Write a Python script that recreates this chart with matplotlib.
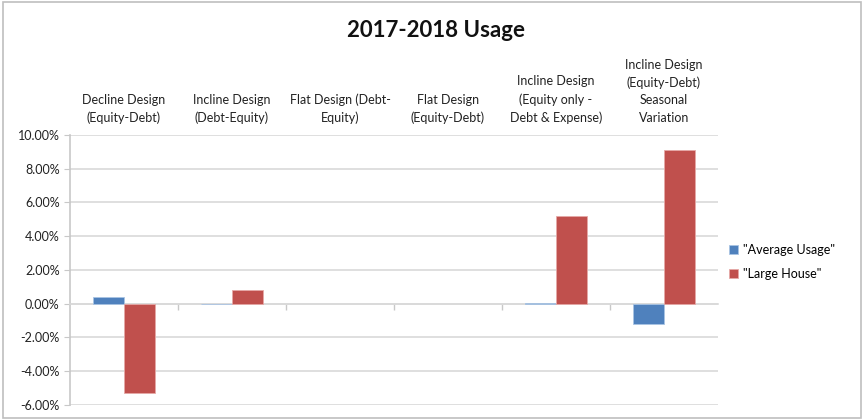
import numpy as np
import matplotlib.pyplot as plt
from matplotlib.ticker import FuncFormatter, FixedLocator
from matplotlib.patches import Rectangle

categories = [
    "Decline Design\n(Equity-Debt)",
    "Incline Design\n(Debt-Equity)",
    "Flat Design (Debt-\nEquity)",
    "Flat Design\n(Equity-Debt)",
    "Incline Design\n(Equity only -\nDebt & Expense)",
    "Incline Design\n(Equity-Debt)\nSeasonal\nVariation",
]
average_usage = [0.0037, -0.0005, 0.0, 0.0, 0.0003, -0.0120]
large_house = [-0.0526, 0.0081, 0.0, 0.0, 0.0521, 0.0907]
series_names = ['"Average Usage"', '"Large House"']

plt.rcParams['font.family'] = ['Lato', 'DejaVu Sans']

fig = plt.figure(figsize=(8.64, 4.2), dpi=100)
ax = fig.add_axes([0.081, 0.0357, 0.75, 0.6435])

x = np.arange(len(categories))
w = 0.287


def edge_widths(vals):
    # no outline on empty bars so nothing shows at zero
    return [0.6 if v != 0 else 0 for v in vals]


ax.bar(x - w / 2, average_usage, w, color="#4f81bd", edgecolor="#a9c4e4",
       linewidth=edge_widths(average_usage), label=series_names[0], zorder=3)
ax.bar(x + w / 2, large_house, w, color="#c0504d", edgecolor="#e6a9a7",
       linewidth=edge_widths(large_house), label=series_names[1], zorder=3)

ax.set_xlim(-0.5, len(categories) - 0.5)
ax.set_ylim(-0.06, 0.10)
ax.set_yticks(np.arange(-0.06, 0.1001, 0.02))
ax.yaxis.set_major_formatter(FuncFormatter(lambda v, p: f"{v * 100:.2f}%"))
ax.grid(axis="y", color="#d9d9d9", linewidth=1.2, zorder=0)

# category labels above the plot, boundary ticks on the zero line
ax.set_xticks(x)
ax.set_xticklabels([])
for xi, name in zip(x, categories):
    ax.text(xi, 1.04, name, transform=ax.get_xaxis_transform(), ha="center", va="bottom",
            fontsize=9, color="#222222", linespacing=1.55)
ax.xaxis.set_minor_locator(FixedLocator(np.arange(0.5, len(categories) - 0.5, 1.0)))
ax.tick_params(axis="x", which="major", bottom=False, top=False)
ax.tick_params(axis="x", which="minor", bottom=True, top=False, length=4,
               color="#c8c8c8", width=1)
ax.tick_params(axis="y", length=4, color="#c8c8c8", labelsize=9, labelcolor="#222222")

ax.spines["bottom"].set_position(("data", 0))
ax.spines["bottom"].set_color("#d9d9d9")
ax.spines["bottom"].set_linewidth(1.2)
ax.spines["left"].set_color("#c8c8c8")
ax.spines["left"].set_linewidth(1.2)
ax.spines["top"].set_visible(False)
ax.spines["right"].set_visible(False)

fig.text(0.505, 0.927, "2017-2018 Usage", ha="center", va="center",
         fontsize=16, fontweight="bold", color="#111111")

ax.legend(loc="center left", bbox_to_anchor=(1.0, 0.53), frameon=False, fontsize=9,
          handlelength=0.7, handleheight=0.7, handletextpad=0.4, labelspacing=1.0)

fig.patches.append(Rectangle((0.004, 0.004), 0.992, 0.992, transform=fig.transFigure,
                             fill=False, edgecolor="#bfbfbf", linewidth=1.2))

fig.savefig("out.png", dpi=100)
